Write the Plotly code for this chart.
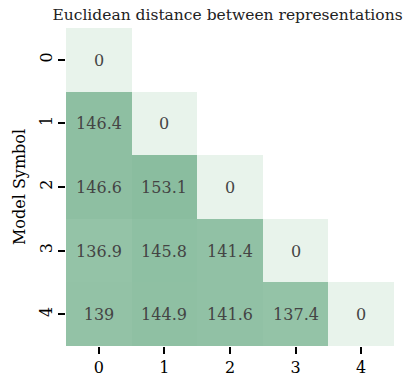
import plotly.graph_objects as go

labels = ["0", "1", "2", "3", "4"]
z = [
    [0, None, None, None, None],
    [146.4, 0, None, None, None],
    [146.6, 153.1, 0, None, None],
    [136.9, 145.8, 141.4, 0, None],
    [139, 144.9, 141.6, 137.4, 0],
]

font_family = "'DejaVu Serif', serif"

fig = go.Figure(go.Heatmap(
    z=z,
    x=labels,
    y=labels,
    colorscale=[[0, "#e8f3eb"], [1, "#8abd9f"]],
    zmin=0,
    zmax=153.1,
    showscale=False,
    texttemplate="%{z}",
    textfont=dict(family=font_family, size=16, color="#444444"),
    xgap=0, ygap=0,
    hoverongaps=False,
))

fig.update_layout(
    width=419, height=389,
    margin=dict(l=66, r=25, t=28, b=35),
    plot_bgcolor="white", paper_bgcolor="white",
    font=dict(family=font_family, size=16, color="black"),
    title=dict(text="Euclidean distance between representations", x=0.543, xanchor="center",
               y=0.963, yanchor="middle", font=dict(family=font_family, size=15.5, color="#222")),
)
fig.update_xaxes(
    type="category", showgrid=False, zeroline=False,
    ticks="outside", ticklen=7, tickwidth=2, tickcolor="black",
    tickfont=dict(family=font_family, size=16, color="black"),
)
fig.update_yaxes(
    type="category", autorange="reversed", showgrid=False, zeroline=False,
    ticks="outside", ticklen=7, tickwidth=2, tickcolor="black", tickangle=-90,
    tickfont=dict(family=font_family, size=16, color="black"),
    title=dict(text="Model Symbol", font=dict(family=font_family, size=16, color="black"), standoff=6),
)

fig.write_html("out.html")
